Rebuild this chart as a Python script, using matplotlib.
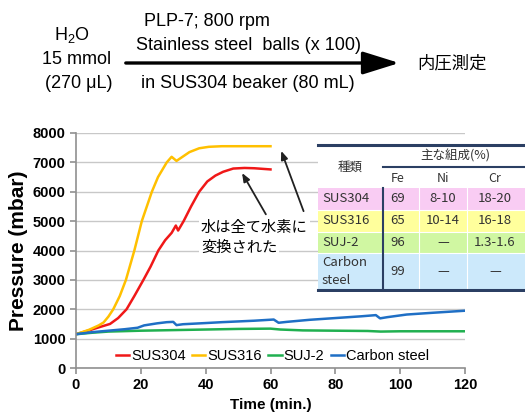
import matplotlib
matplotlib.use("Agg")
import matplotlib.pyplot as plt
from matplotlib.patches import Rectangle

plt.rcParams['font.family'] = ['Liberation Sans', 'Noto Sans CJK JP']
plt.rcParams['mathtext.default'] = 'regular'

# pressure curves (time in min, pressure in mbar)
t_304 = [0, 4, 7.5, 10.5, 13, 15.6, 18, 20.8, 23, 25.4, 27.5, 29.5, 30.8, 31.5, 33.2, 35.5, 38, 40.5, 43, 45.4, 48.5, 52, 55, 60]
p_304 = [1150, 1280, 1400, 1500, 1700, 2000, 2450, 3000, 3450, 4000, 4350, 4600, 4850, 4680, 5000, 5500, 6000, 6350, 6550, 6680, 6790, 6810, 6800, 6760]

t_316 = [0, 4, 7, 8.5, 10, 11.5, 13.5, 15.4, 18, 20.3, 23.4, 25.3, 28, 29.5, 31, 33, 35, 38, 41, 45, 50, 60]
p_316 = [1150, 1300, 1450, 1550, 1750, 2000, 2450, 3000, 4000, 5000, 6000, 6500, 7000, 7190, 7050, 7200, 7350, 7480, 7530, 7550, 7550, 7550]

t_suj = [0, 5, 10, 20, 30, 40, 50, 60, 63, 70, 80, 90, 94, 100, 120]
p_suj = [1150, 1200, 1240, 1270, 1290, 1310, 1330, 1340, 1310, 1280, 1270, 1260, 1240, 1250, 1250]

t_cs = [0, 5, 10, 15, 19, 21, 25, 28, 30, 31, 33, 40, 45, 55, 61, 62.5, 65, 72, 80, 88, 92.5, 93.8, 96, 102, 110, 120]
p_cs = [1150, 1220, 1270, 1320, 1370, 1450, 1520, 1560, 1570, 1460, 1490, 1530, 1560, 1610, 1650, 1540, 1570, 1640, 1700, 1760, 1800, 1690, 1730, 1820, 1880, 1950]

series_names = ['SUS304', 'SUS316', 'SUJ-2', 'Carbon steel']
series_colors = ['#F01818', '#FFC000', '#20B050', '#1F6FC5']

# composition table
table_rows = ['SUS304', 'SUS316', 'SUJ-2', 'Carbon\nsteel']
table_fe = ['69', '65', '96', '99']
table_ni = ['8-10', '10-14', '—', '—']
table_cr = ['18-20', '16-18', '1.3-1.6', '—']
row_colors = ['#F9CCF3', '#FFFF9C', '#D0F7A2', '#CCE9FB']

fig = plt.figure(figsize=(5.25, 4.12), dpi=100)
W, H = 525, 412

# --- reaction scheme on top ---
def fx(px):
    return px / W

def fy(py):
    return 1 - py / H

fs_top = 13
fig.text(fx(72), fy(35), 'H$_2$O', fontsize=fs_top, ha='center', va='center')
fig.text(fx(77), fy(60), '15 mmol', fontsize=fs_top, ha='center', va='center')
fig.text(fx(79), fy(84), '(270 μL)', fontsize=fs_top, ha='center', va='center')
fig.text(fx(207), fy(22), 'PLP-7; 800 rpm', fontsize=fs_top, ha='center', va='center')
fig.text(fx(248), fy(46), 'Stainless steel  balls (x 100)', fontsize=fs_top, ha='center', va='center')
fig.text(fx(248), fy(83), 'in SUS304 beaker (80 mL)', fontsize=fs_top, ha='center', va='center')
fig.text(fx(452), fy(63), '内圧測定', fontsize=12.5, ha='center', va='center',
         family=['Noto Sans CJK JP'])
fig.add_artist(matplotlib.patches.FancyArrowPatch(
    (fx(123), fy(63)), (fx(402), fy(63)), transform=fig.transFigure,
    arrowstyle='-|>,head_length=1.6,head_width=0.5', mutation_scale=14,
    color='black', lw=2.4))

# --- main chart ---
ax = fig.add_axes([76 / W, 1 - 368 / H, (465 - 76) / W, (368 - 133) / H])
ax.plot(t_304, p_304, color=series_colors[0], lw=1.8, label=series_names[0])
ax.plot(t_316, p_316, color=series_colors[1], lw=1.8, label=series_names[1])
ax.plot(t_suj, p_suj, color=series_colors[2], lw=1.8, label=series_names[2])
ax.plot(t_cs, p_cs, color=series_colors[3], lw=1.8, label=series_names[3])

ax.set_xlim(0, 120)
ax.set_ylim(0, 8000)
ax.set_xticks(range(0, 121, 20))
ax.set_yticks(range(0, 8001, 1000))
ax.yaxis.grid(True, color='#C8C8C8', lw=1)
ax.set_axisbelow(True)
for s in ['top', 'right']:
    ax.spines[s].set_visible(False)
for s in ['left', 'bottom']:
    ax.spines[s].set_color('#909090')
    ax.spines[s].set_linewidth(1.2)
ax.tick_params(colors='#909090', length=4, width=1.2, labelcolor='black')
for lab in ax.get_xticklabels() + ax.get_yticklabels():
    lab.set_fontweight('bold')
    lab.set_fontsize(10.5)
ax.set_xlabel('Time (min.)', fontsize=11, fontweight='bold', labelpad=4)
ax.set_ylabel('Pressure (mbar)', fontsize=15, fontweight='bold', labelpad=3)

ax.legend(loc='lower center', bbox_to_anchor=(0.505, -0.035), ncol=4, frameon=False,
          fontsize=10.5, handlelength=0.9, handletextpad=0.15, columnspacing=0.45)

# annotation
ax.text(38.5, 4800, '水は全て水素に', fontsize=11, va='center', ha='left',
        family=['Noto Sans CJK JP'],
        bbox=dict(fc='white', ec='none', pad=1.5))
ax.text(38.5, 4120, '変換された', fontsize=11, va='center', ha='left',
        family=['Noto Sans CJK JP'],
        bbox=dict(fc='white', ec='none', pad=1.5))
ax.annotate('', xy=(50.8, 6720), xytext=(59, 5150),
            arrowprops=dict(arrowstyle='-|>,head_length=0.5,head_width=0.2', color='#202020', lw=1.3))
ax.annotate('', xy=(63, 7480), xytext=(70.5, 5250),
            arrowprops=dict(arrowstyle='-|>,head_length=0.5,head_width=0.2', color='#202020', lw=1.3))

# --- composition table (pixel-based overlay) ---
tx = fig.add_axes([316 / W, 1 - 292 / H, (W - 316) / W, (292 - 143) / H])
tx.set_xlim(316, W)
tx.set_ylim(292, 143)
tx.axis('off')
tx.add_patch(Rectangle((318, 145), W - 318, 145, fc='white', ec='none'))
row_edges = [188, 210, 232, 253, 290]
for i, c in enumerate(row_colors):
    tx.add_patch(Rectangle((318, row_edges[i]), W - 318, row_edges[i + 1] - row_edges[i], fc=c, ec='none'))
for y in row_edges[1:-1]:
    tx.plot([318, W], [y, y], color='white', lw=0.8)
for x in [419, 467]:
    tx.plot([x, x], [172, 290], color='white', lw=0.8)
tx.plot([318, W], [145, 145], color='#2B3F63', lw=2.2)
tx.plot([318, W], [290, 290], color='#2B3F63', lw=2.2)
tx.plot([383, W], [167, 167], color='#2B3F63', lw=1.5)
tx.plot([383, 383], [188, 290], color='#2B3F63', lw=1.5)

tfont = dict(family=['Noto Sans CJK JP'], fontsize=9, color='#333333', va='center')
rfont = dict(tfont, fontsize=9.5)
tx.text(350, 167, '種類', ha='center', **tfont)
tx.text(455, 156, '主な組成(%)', ha='center', **tfont)
tx.text(398, 178, 'Fe', ha='center', **tfont)
tx.text(443, 178, 'Ni', ha='center', **tfont)
tx.text(495, 178, 'Cr', ha='center', **tfont)
for i in range(4):
    yc = (row_edges[i] + row_edges[i + 1]) / 2
    tx.text(322, yc, table_rows[i], ha='left', linespacing=1.4, **rfont)
    tx.text(398, yc, table_fe[i], ha='center', **rfont)
    tx.text(443, yc, table_ni[i], ha='center', **rfont)
    tx.text(495, yc, table_cr[i], ha='center', **rfont)

fig.savefig('out.png', dpi=100)
